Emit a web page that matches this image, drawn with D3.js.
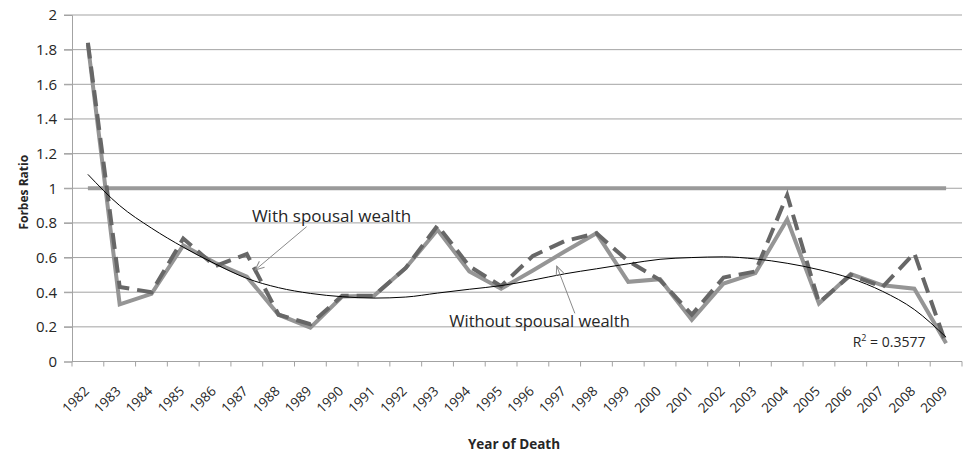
<!DOCTYPE html>
<html>
<head>
<meta charset="utf-8">
<script src="https://cdn.jsdelivr.net/npm/d3@7"></script>
<style>
  html, body { margin: 0; padding: 0; background: #fff; }
  svg { display: block; font-family: "Open Sans", sans-serif; }
</style>
</head>
<body>
<svg id="chart" width="969" height="452"></svg>
<script>
const years = ["1982","1983","1984","1985","1986","1987","1988","1989","1990","1991",
  "1992","1993","1994","1995","1996","1997","1998","1999","2000","2001",
  "2002","2003","2004","2005","2006","2007","2008","2009"];
const withoutSpousal = [1.83, 0.33, 0.39, 0.67, 0.57, 0.49, 0.27, 0.195, 0.375, 0.38,
  0.54, 0.76, 0.52, 0.42, 0.525, 0.635, 0.74, 0.46, 0.475, 0.24,
  0.45, 0.51, 0.82, 0.335, 0.505, 0.44, 0.42, 0.105];
const withSpousal = [1.84, 0.43, 0.40, 0.71, 0.55, 0.62, 0.27, 0.215, 0.38, 0.38,
  0.54, 0.785, 0.55, 0.435, 0.61, 0.695, 0.74, 0.58, 0.47, 0.27,
  0.485, 0.52, 0.96, 0.34, 0.50, 0.43, 0.625, 0.10];
const trend = [1.08, 0.90, 0.77, 0.66, 0.564, 0.48, 0.426, 0.393, 0.374, 0.366,
  0.372, 0.395, 0.417, 0.438, 0.47, 0.506, 0.535, 0.564, 0.59, 0.60,
  0.604, 0.592, 0.567, 0.53, 0.48, 0.405, 0.30, 0.14];
const reference = 1;
const yTicks = [0, 0.2, 0.4, 0.6, 0.8, 1, 1.2, 1.4, 1.6, 1.8, 2];
const rSquaredLabel = "0.3577";

const svg = d3.select("#chart");
const mLeft = 72, mRight = 962, mTop = 15, mBottom = 361.5;

const x = d3.scaleBand().domain(years).range([mLeft, mRight]).paddingInner(0).paddingOuter(0);
const cx = d => x(d) + x.bandwidth() / 2;
const xi = d3.scaleLinear().domain([0, years.length]).range([mLeft, mRight]); // fractional index (band edges)
const y = d3.scaleLinear().domain([0, 2]).range([mBottom, mTop]);

const gridColor = "#a3a3a3";
const textColor = "#262626";

// gridlines
svg.append("g").selectAll("line").data(yTicks.filter(v => v > 0)).join("line")
  .attr("x1", mLeft - 8).attr("x2", mRight)
  .attr("y1", d => y(d)).attr("y2", d => y(d))
  .attr("stroke", gridColor).attr("stroke-width", 1);

// y axis
const yAxis = svg.append("g").attr("transform", `translate(${mLeft},0)`)
  .call(d3.axisLeft(y).tickValues(yTicks).tickSize(8).tickPadding(7).tickFormat(d => String(d)));
yAxis.select(".domain").attr("stroke", gridColor);
yAxis.selectAll(".tick line").attr("stroke", gridColor);
yAxis.selectAll("text").attr("font-size", 15).attr("fill", textColor)
  .attr("font-family", "Open Sans, sans-serif");

// x axis
const xAxis = svg.append("g").attr("transform", `translate(0,${mBottom})`);
xAxis.append("line").attr("x1", mLeft).attr("x2", mRight).attr("stroke", gridColor);
xAxis.selectAll("line.tk").data(d3.range(years.length + 1)).join("line")
  .attr("class", "tk")
  .attr("x1", d => xi(d)).attr("x2", d => xi(d))
  .attr("y1", 0).attr("y2", 5).attr("stroke", gridColor);
xAxis.selectAll("text").data(years).join("text")
  .attr("transform", d => `translate(${cx(d) + 2},${30.5}) rotate(-45)`)
  .attr("text-anchor", "end")
  .attr("font-size", 13.5).attr("fill", textColor)
  .text(d => d);

// reference line at 1
svg.append("line")
  .attr("x1", cx(years[0])).attr("x2", cx(years[years.length - 1]))
  .attr("y1", y(reference)).attr("y2", y(reference))
  .attr("stroke", "#9a9a9a").attr("stroke-width", 4);

const line = d3.line().x((d, i) => cx(years[i])).y(d => y(d));

// without spousal wealth (solid)
svg.append("path").datum(withoutSpousal)
  .attr("d", line).attr("fill", "none")
  .attr("stroke", "#959595").attr("stroke-width", 4).attr("stroke-linejoin", "miter");

// with spousal wealth (dashed)
svg.append("path").datum(withSpousal)
  .attr("d", line).attr("fill", "none")
  .attr("stroke", "#676767").attr("stroke-width", 4)
  .attr("stroke-dasharray", "16,8");

// trendline
const trendLine = d3.line().x((d, i) => cx(years[i])).y(d => y(d)).curve(d3.curveMonotoneX);
svg.append("path").datum(trend)
  .attr("d", trendLine).attr("fill", "none")
  .attr("stroke", "#000").attr("stroke-width", 1);

// arrow marker
svg.append("defs").append("marker")
  .attr("id", "arrow").attr("viewBox", "-10 -6 12 12")
  .attr("refX", 0).attr("refY", 0)
  .attr("markerWidth", 12).attr("markerHeight", 12)
  .attr("markerUnits", "userSpaceOnUse")
  .attr("orient", "auto")
  .append("path").attr("d", "M-9,-4 L0,0 L-9,4")
  .attr("fill", "none").attr("stroke", "#8a8a8a").attr("stroke-width", 1);

// annotations (fractional band-edge index, value)
const annotations = [
  { text: "With spousal wealth", size: 17, tx: 5.66, ty: 0.807, fromX: 7.38, fromY: 0.778, toX: 5.76, toY: 0.528 },
  { text: "Without spousal wealth", size: 16.5, tx: 11.87, ty: 0.20, fromX: 15.82, fromY: 0.278, toX: 15.25, toY: 0.551 }
];
annotations.forEach(a => {
  svg.append("line")
    .attr("x1", xi(a.fromX)).attr("y1", y(a.fromY))
    .attr("x2", xi(a.toX)).attr("y2", y(a.toY))
    .attr("stroke", "#8a8a8a").attr("stroke-width", 1)
    .attr("marker-end", "url(#arrow)");
  svg.append("text")
    .attr("x", xi(a.tx)).attr("y", y(a.ty))
    .attr("font-size", a.size).attr("fill", textColor)
    .text(a.text);
});

// R squared
const rt = svg.append("text")
  .attr("x", xi(24.56)).attr("y", y(0.085))
  .attr("font-size", 14).attr("fill", textColor);
rt.append("tspan").text("R");
rt.append("tspan").attr("font-size", 9).attr("dy", -6).text("2");
rt.append("tspan").attr("dy", 6).text(" = " + rSquaredLabel);

// axis titles
svg.append("text")
  .attr("transform", `translate(28,${(mTop + mBottom) / 2 + 4}) rotate(-90)`)
  .attr("text-anchor", "middle").attr("font-weight", "bold")
  .attr("font-size", 12).attr("fill", textColor)
  .text("Forbes Ratio");

svg.append("text")
  .attr("x", 514).attr("y", 449)
  .attr("text-anchor", "middle").attr("font-weight", "bold")
  .attr("font-size", 13.5).attr("fill", textColor)
  .text("Year of Death");
</script>
</body>
</html>
